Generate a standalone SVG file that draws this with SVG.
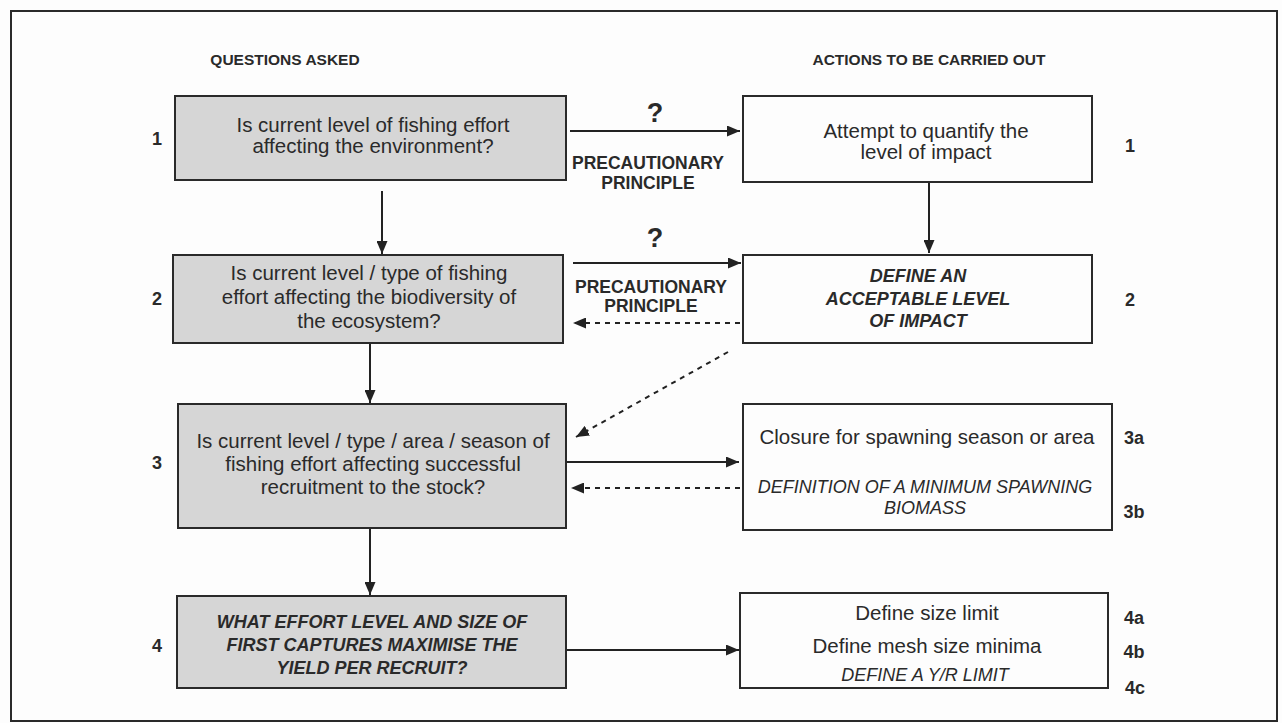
<svg xmlns="http://www.w3.org/2000/svg" width="1282" height="723" viewBox="0 0 1282 723">
<defs>
<marker id="ah" viewBox="0 0 13 11" refX="13" refY="5.5" markerWidth="13" markerHeight="11" markerUnits="userSpaceOnUse" orient="auto">
<path d="M0,0 L13,5.5 L0,11 Z" fill="#222"/>
</marker>
<style>
.q{fill:#d6d6d6;stroke:#2a2a2a;stroke-width:2}
.a{fill:#fdfdfd;stroke:#2a2a2a;stroke-width:2}
.t{font-family:"Liberation Sans",Arial,sans-serif;font-size:20.5px;fill:#2a2a2a;text-anchor:middle}
.bi{font-family:"Liberation Sans",Arial,sans-serif;font-size:18px;font-weight:bold;font-style:italic;fill:#2a2a2a;text-anchor:middle}
.it{font-family:"Liberation Sans",Arial,sans-serif;font-size:18px;font-style:italic;fill:#2a2a2a;text-anchor:middle}
.n{font-family:"Liberation Sans",Arial,sans-serif;font-size:18px;font-weight:bold;fill:#2a2a2a;text-anchor:middle}
.h{font-family:"Liberation Sans",Arial,sans-serif;font-size:15.5px;font-weight:bold;fill:#2a2a2a;text-anchor:middle}
.pp{font-family:"Liberation Sans",Arial,sans-serif;font-size:17.5px;font-weight:bold;fill:#2a2a2a;text-anchor:middle}
.qm{font-family:"Liberation Sans",Arial,sans-serif;font-size:27px;font-weight:bold;fill:#2a2a2a;text-anchor:middle}
.c{stroke:#222;stroke-width:2;fill:none}
.d{stroke:#222;stroke-width:2;fill:none;stroke-dasharray:5 5}
</style>
</defs>
<rect x="0" y="0" width="1282" height="723" fill="#fdfdfd"/>
<rect x="11" y="11" width="1266" height="710" fill="#fdfdfd" stroke="#2a2a2a" stroke-width="2"/>

<g id="headers">
<text class="h" x="285" y="65">QUESTIONS ASKED</text>
<text class="h" x="929" y="65">ACTIONS TO BE CARRIED OUT</text>
</g>

<g id="connectors">
<line class="c" x1="570" y1="131" x2="740" y2="131" marker-end="url(#ah)"/>
<line class="c" x1="929" y1="183" x2="929" y2="253" marker-end="url(#ah)"/>
<line class="c" x1="382" y1="191" x2="382" y2="254" marker-end="url(#ah)"/>
<line class="c" x1="573" y1="263" x2="741" y2="263" marker-end="url(#ah)"/>
<line class="d" x1="740" y1="323" x2="573" y2="323" marker-end="url(#ah)"/>
<line class="d" x1="728" y1="352" x2="576" y2="437" marker-end="url(#ah)"/>
<line class="c" x1="370" y1="344" x2="370" y2="403" marker-end="url(#ah)"/>
<line class="c" x1="566" y1="462" x2="739" y2="462" marker-end="url(#ah)"/>
<line class="d" x1="740" y1="488" x2="571" y2="488" marker-end="url(#ah)"/>
<line class="c" x1="370" y1="529" x2="370" y2="595" marker-end="url(#ah)"/>
<line class="c" x1="566" y1="650" x2="739" y2="650" marker-end="url(#ah)"/>
<text class="qm" x="655" y="122">?</text>
<text class="pp" x="648" y="169">PRECAUTIONARY</text>
<text class="pp" x="648" y="189">PRINCIPLE</text>
<text class="qm" x="655" y="247">?</text>
<text class="pp" x="651" y="293">PRECAUTIONARY</text>
<text class="pp" x="651" y="312">PRINCIPLE</text>
</g>

<g id="q1">
<rect class="q" x="175" y="96" width="391" height="84"/>
<text class="t" x="373" y="132">Is current level of fishing effort</text>
<text class="t" x="373" y="153">affecting the environment?</text>
<text class="n" x="157" y="145">1</text>
</g>

<g id="q2">
<rect class="q" x="173" y="255" width="390" height="88"/>
<text class="t" x="369" y="280">Is current level / type of fishing</text>
<text class="t" x="369" y="304">effort affecting the biodiversity of</text>
<text class="t" x="369" y="328">the ecosystem?</text>
<text class="n" x="157" y="305">2</text>
</g>

<g id="q3">
<rect class="q" x="178" y="404" width="388" height="124"/>
<text class="t" x="373" y="448">Is current level / type / area / season of</text>
<text class="t" x="373" y="471">fishing effort affecting successful</text>
<text class="t" x="373" y="494">recruitment to the stock?</text>
<text class="n" x="157" y="469">3</text>
</g>

<g id="q4">
<rect class="q" x="177" y="596" width="389" height="92"/>
<text class="bi" x="372" y="628">WHAT EFFORT LEVEL AND SIZE OF</text>
<text class="bi" x="372" y="651">FIRST CAPTURES MAXIMISE THE</text>
<text class="bi" x="372" y="674">YIELD PER RECRUIT?</text>
<text class="n" x="157" y="652">4</text>
</g>

<g id="a1">
<rect class="a" x="743" y="96" width="349" height="86"/>
<text class="t" x="926" y="138">Attempt to quantify the</text>
<text class="t" x="926" y="159">level of impact</text>
<text class="n" x="1130" y="152">1</text>
</g>

<g id="a2">
<rect class="a" x="743" y="255" width="349" height="88"/>
<text class="bi" x="918" y="282">DEFINE AN</text>
<text class="bi" x="918" y="305">ACCEPTABLE LEVEL</text>
<text class="bi" x="918" y="327">OF IMPACT</text>
<text class="n" x="1130" y="306">2</text>
</g>

<g id="a3">
<rect class="a" x="743" y="404" width="369" height="126"/>
<text class="t" x="927" y="444">Closure for spawning season or area</text>
<text class="it" x="925" y="493">DEFINITION OF A MINIMUM SPAWNING</text>
<text class="it" x="925" y="514">BIOMASS</text>
<text class="n" x="1134" y="444">3a</text>
<text class="n" x="1134" y="518">3b</text>
</g>

<g id="a4">
<rect class="a" x="740" y="593" width="368" height="95"/>
<text class="t" x="927" y="620">Define size limit</text>
<text class="t" x="927" y="653">Define mesh size minima</text>
<text class="it" x="925" y="681">DEFINE A Y/R LIMIT</text>
<text class="n" x="1134" y="624">4a</text>
<text class="n" x="1134" y="658">4b</text>
<text class="n" x="1135" y="694">4c</text>
</g>
</svg>
